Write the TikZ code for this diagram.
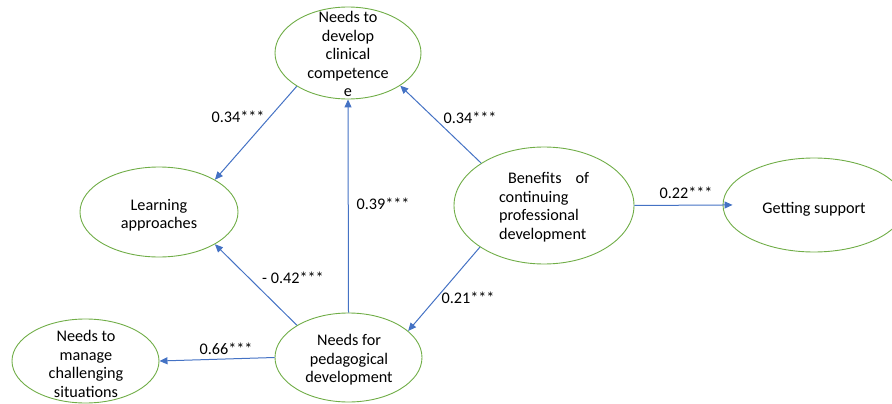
\documentclass[tikz,border=0pt]{standalone}
\usepackage{fontspec}
\setmainfont{Carlito}
\usetikzlibrary{arrows.meta,shapes.geometric}
\definecolor{ovalgreen}{RGB}{112,173,71}
\definecolor{pathblue}{RGB}{68,114,196}

\begin{document}
\begin{tikzpicture}[x=1pt,y=-1pt,
  oval/.style={draw=ovalgreen,line width=0.9pt,ellipse,inner sep=0pt},
  path/.style={draw=pathblue,line width=1pt,-{Triangle[length=8pt,width=7pt]}},
  coef/.style={font=\fontsize{16.2}{18.5}\selectfont}]
\useasboundingbox (0,0) rectangle (892,404);
\tikzset{every node/.append style={font=\fontsize{16.2}{18.5}\selectfont,align=center}}

% the ellipses
\node[oval,minimum width=146,minimum height=92] (C) at (348,53) {};
\node[oval,minimum width=158,minimum height=90] (L) at (159,212) {};
\node[oval,minimum width=180,minimum height=117] (B) at (544,205.5) {};
\node[oval,minimum width=182,minimum height=94] (S) at (814,205) {};
\node[oval,minimum width=147,minimum height=89] (P) at (348.5,357.5) {};
\node[oval,minimum width=147,minimum height=84] (M) at (85.5,361) {};

% their texts
\node at (348,54) {Needs to\\develop\\clinical\\competence\\e};
\node at (159,215) {Learning\\approaches};
\node[align=left,text width=90pt] at (544,207) {\hspace*{9pt}Benefits\hfill of\\continuing\\professional\\development};
\node at (814,209) {Getting support};
\node at (349,360) {Needs for\\pedagogical\\development};
\node at (86,364) {Needs to\\manage\\challenging\\situations};

% paths
\draw[path] (C.-147.6) -- (L.30.8);
\draw[path] (B.146.4) -- (C.-32.7);
\draw[path] (P.north) -- (C.south);
\draw[path] (P.148.2) -- (L.-30.4);
\draw[path] (B.213.6) -- (P.24.6);
\draw[path,shorten >=-10pt] (B.east) -- (S.west);
\draw[path] (P.west) -- (M.east);

% coefficients
\node[coef] at (238,117) {0.34***};
\node[coef] at (470,118) {0.34***};
\node[coef] at (383,204) {0.39***};
\node[coef] at (293,278) {- 0.42***};
\node[coef] at (468,298) {0.21***};
\node[coef] at (686,193) {0.22***};
\node[coef] at (226,349) {0.66***};

\end{tikzpicture}
\end{document}
